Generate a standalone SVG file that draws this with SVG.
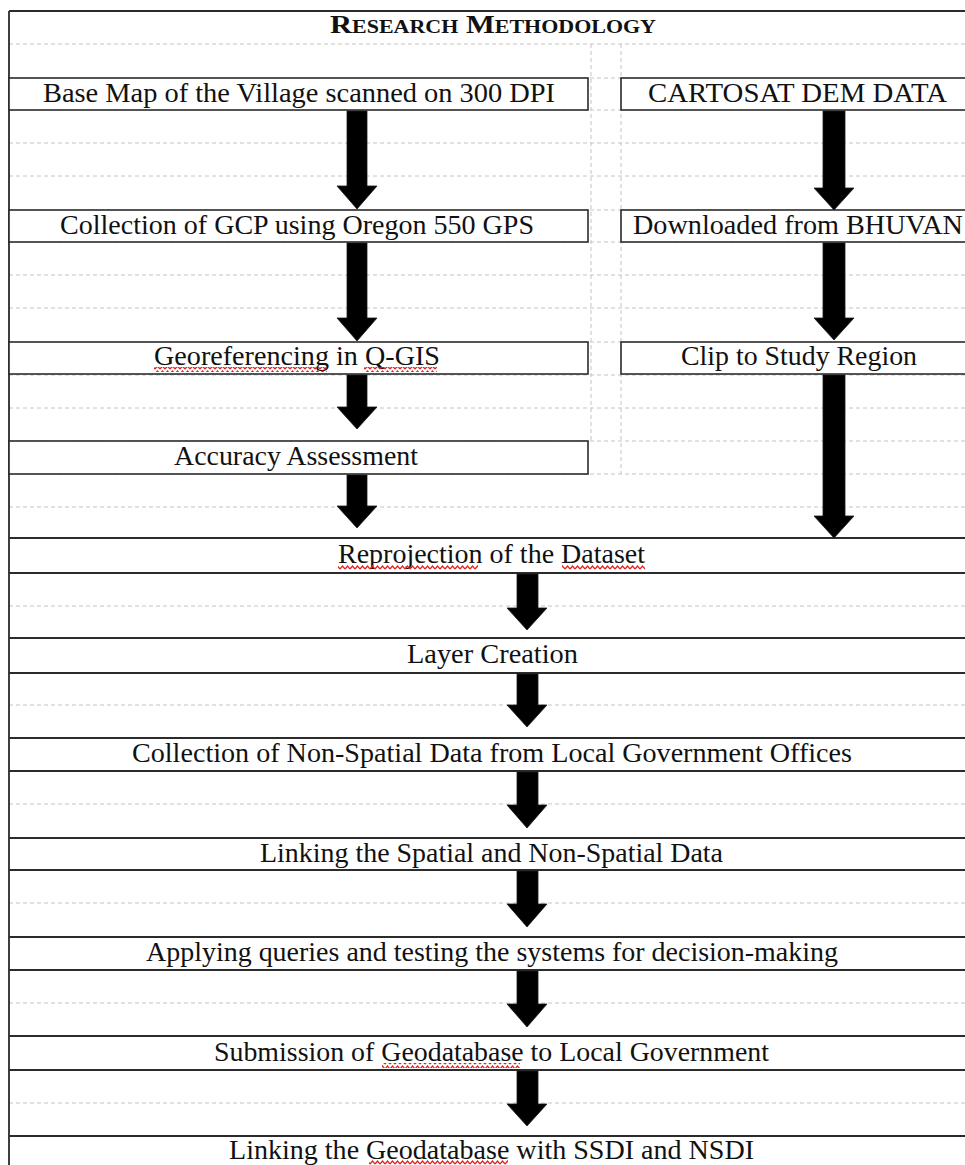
<svg xmlns="http://www.w3.org/2000/svg" width="965" height="1165" viewBox="0 0 965 1165">
<style>
  .bg{fill:#ffffff}
  .grid{stroke:#c4c4c4;stroke-width:1;stroke-dasharray:4 3;fill:none}
  .solid{stroke:#2b2b2b;stroke-width:1.8;fill:none}
  .box{fill:#ffffff;stroke:#2b2b2b;stroke-width:1.6}
  .lbl{font-family:"Liberation Serif","Times New Roman",serif;font-size:28px;fill:#111111}
  .title{font-family:"Liberation Serif","Times New Roman",serif;font-size:25px;font-weight:bold;font-variant:small-caps;fill:#111111}
  .arrow{fill:#000000;stroke:#1a1a1a;stroke-width:0.8;stroke-linejoin:miter}
  .squig{fill:url(#wave)}
</style>
<defs>
  <pattern id="wave" x="0" y="0" width="5" height="5" patternUnits="userSpaceOnUse">
    <path d="M0 4 L2.5 1 L5 4" fill="none" stroke="#e41f1f" stroke-width="1.2"/>
  </pattern>
</defs>
<rect class="bg" x="0" y="0" width="965" height="1165"/>

<g id="grid">
  <path class="grid" d="M9 44H965 M9 78H965 M9 110H965 M9 143H965 M9 176H965 M9 210H965 M9 242H965 M9 275H965 M9 308H965 M9 342H965 M9 375H965 M9 408H965 M9 441H965 M9 474H965 M9 507H965 M9 606H965 M9 705H965 M9 804H965 M9 903H965 M9 1003H965 M9 1103H965"/>
  <path class="grid" d="M591 44V441 M621 44V474"/>
  <path class="solid" d="M9 11H965 M9 11V1165"/>
</g>

<g id="title">
  <text class="title" x="330" y="33" textLength="326" lengthAdjust="spacingAndGlyphs">Research Methodology</text>
</g>

<g id="node-basemap">
  <rect class="box" x="9" y="78" width="579" height="32"/>
  <text class="lbl" x="43" y="102" textLength="512" lengthAdjust="spacingAndGlyphs">Base Map of the Village scanned on 300 DPI</text>
</g>
<g id="node-cartosat">
  <rect class="box" x="621" y="78" width="360" height="32"/>
  <text class="lbl" x="648" y="102" textLength="299" lengthAdjust="spacingAndGlyphs">CARTOSAT DEM DATA</text>
</g>
<g id="node-gcp">
  <rect class="box" x="9" y="210" width="579" height="32"/>
  <text class="lbl" x="60" y="234" textLength="474" lengthAdjust="spacingAndGlyphs">Collection of GCP using Oregon 550 GPS</text>
</g>
<g id="node-bhuvan">
  <rect class="box" x="621" y="210" width="360" height="32"/>
  <text class="lbl" x="633" y="234" textLength="330" lengthAdjust="spacingAndGlyphs">Downloaded from BHUVAN</text>
</g>
<g id="node-georef">
  <rect class="box" x="9" y="342" width="579" height="32"/>
  <text class="lbl" x="154" y="365" textLength="286" lengthAdjust="spacingAndGlyphs">Georeferencing in Q-GIS</text>
  <rect class="squig" x="154" y="367" width="173" height="5"/>
  <rect class="squig" x="364" y="367" width="73" height="5"/>
</g>
<g id="node-clip">
  <rect class="box" x="621" y="342" width="360" height="32"/>
  <text class="lbl" x="681" y="365" textLength="236" lengthAdjust="spacingAndGlyphs">Clip to Study Region</text>
</g>
<g id="node-accuracy">
  <rect class="box" x="9" y="441" width="579" height="33"/>
  <text class="lbl" x="174" y="465" textLength="244" lengthAdjust="spacingAndGlyphs">Accuracy Assessment</text>
</g>

<g id="node-reprojection">
  <path class="solid" d="M9 538H965 M9 573H965"/>
  <text class="lbl" x="338" y="563" textLength="307" lengthAdjust="spacingAndGlyphs">Reprojection of the Dataset</text>
  <rect class="squig" x="338" y="565" width="140" height="5"/>
  <rect class="squig" x="562" y="565" width="83" height="5"/>
</g>
<g id="node-layer">
  <path class="solid" d="M9 638H965 M9 673H965"/>
  <text class="lbl" x="407" y="663" textLength="171" lengthAdjust="spacingAndGlyphs">Layer Creation</text>
</g>
<g id="node-nonspatial">
  <path class="solid" d="M9 738H965 M9 771H965"/>
  <text class="lbl" x="132" y="762" textLength="720" lengthAdjust="spacingAndGlyphs">Collection of Non-Spatial Data from Local Government Offices</text>
</g>
<g id="node-linking">
  <path class="solid" d="M9 838H965 M9 870H965"/>
  <text class="lbl" x="260" y="862" textLength="463" lengthAdjust="spacingAndGlyphs">Linking the Spatial and Non-Spatial Data</text>
</g>
<g id="node-queries">
  <path class="solid" d="M9 937H965 M9 970H965"/>
  <text class="lbl" x="146" y="961" textLength="692" lengthAdjust="spacingAndGlyphs">Applying queries and testing the systems for decision-making</text>
</g>
<g id="node-submission">
  <path class="solid" d="M9 1036H965 M9 1070H965"/>
  <text class="lbl" x="214" y="1061" textLength="555" lengthAdjust="spacingAndGlyphs">Submission of Geodatabase to Local Government</text>
  <rect class="squig" x="382" y="1063" width="138" height="5"/>
</g>
<g id="node-sdi">
  <path class="solid" d="M9 1136H965"/>
  <text class="lbl" x="229" y="1159" textLength="525" lengthAdjust="spacingAndGlyphs">Linking the Geodatabase with SSDI and NSDI</text>
  <rect class="squig" x="369" y="1160" width="139" height="5"/>
</g>

<g id="connectors">
  <path class="arrow" d="M347 111H367V186H377L357 209L337 186H347Z"/>
  <path class="arrow" d="M347 243H367V318H377L357 341L337 318H347Z"/>
  <path class="arrow" d="M347 375H367V407H377L357 429L337 407H347Z"/>
  <path class="arrow" d="M347 475H367V506H377L357 528L337 506H347Z"/>
  <path class="arrow" d="M823 111H845V188H854L834 210L814 188H823Z"/>
  <path class="arrow" d="M823 243H845V318H854L834 340L814 318H823Z"/>
  <path class="arrow" d="M823 375H845V516H854L834 538L814 516H823Z"/>
  <path class="arrow" d="M517 574H538V608H547L527 630L507 608H517Z"/>
  <path class="arrow" d="M517 674H538V705H547L527 727L507 705H517Z"/>
  <path class="arrow" d="M517 772H538V805H547L527 828L507 805H517Z"/>
  <path class="arrow" d="M517 871H538V904H547L527 927L507 904H517Z"/>
  <path class="arrow" d="M517 971H538V1004H547L527 1027L507 1004H517Z"/>
  <path class="arrow" d="M517 1071H538V1104H547L527 1126L507 1104H517Z"/>
</g>
</svg>
